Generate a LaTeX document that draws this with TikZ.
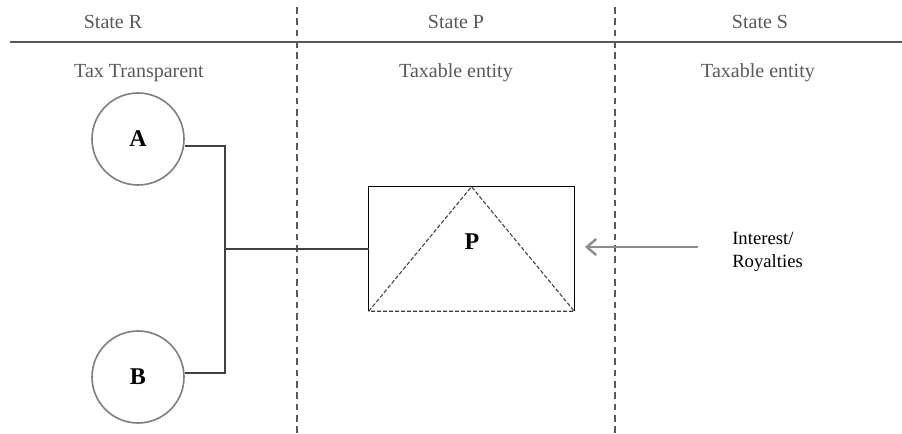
\documentclass[tikz,border=0pt]{standalone}
\usepackage{fontspec}
\setmainfont{Liberation Serif}
\usetikzlibrary{arrows.meta}
\definecolor{hdr}{HTML}{595959}
\definecolor{ln}{HTML}{404040}
\definecolor{circ}{HTML}{7F7F7F}
\definecolor{arr}{HTML}{8C8C8C}
\tikzset{
  hdrtext/.style={text=hdr, font=\fontsize{15}{18}\selectfont, inner sep=0pt},
  entity/.style={circle, draw=circ, line width=1.2pt, minimum size=92*0.75pt, inner sep=0pt, font=\fontsize{18}{21}\selectfont\bfseries},
  conn/.style={draw=ln, line width=0.9pt},
  divider/.style={draw=hdr, line width=0.9pt, dash pattern=on 5pt off 3.5pt},
  tri/.style={draw=ln, line width=0.8pt, dash pattern=on 3pt off 1.5pt},
}
\begin{document}
\begin{tikzpicture}[x=0.75pt,y=-0.75pt]
\useasboundingbox (0,0) rectangle (902,434);
\fill[white] (0,0) rectangle (902,434);
% header line and dividers
\coordinate (hl) at (10,42);
\coordinate (hr) at (902,42);
\draw[draw=hdr, line width=1pt] (hl) -- (hr);
\coordinate (d1t) at (297,7);
\coordinate (d1b) at (297,434);
\coordinate (d2t) at (615,7);
\coordinate (d2b) at (615,434);
\draw[divider] (d1t) -- (d1b);
\draw[divider] (d2t) -- (d2b);
% headers
\node[hdrtext] (sR) at (113,22) {State R};
\node[hdrtext] (sP) at (456,22) {State P};
\node[hdrtext] (sS) at (760,22) {State S};
\node[hdrtext] (tR) at (139,73) {Tax Transparent};
\node[hdrtext] (tP) at (456,73) {Taxable entity};
\node[hdrtext] (tS) at (758,73) {Taxable entity};
% entities
\node[entity] (A) at (138,139) {A};
\node[entity] (B) at (138,377) {B};
% box P
\node[minimum width=205*0.75pt, minimum height=124*0.75pt, inner sep=0pt] (Pbox) at (471.5,249) {};
\draw[draw=black, line width=1pt] (Pbox.south west) -- (Pbox.north west) -- (Pbox.north east) -- (Pbox.south east);
\draw[tri] (Pbox.south west) -- (Pbox.north) -- (Pbox.south east) -- cycle;
\node[font=\fontsize{18}{21}\selectfont\bfseries, inner sep=0pt] (P) at (472,242) {P};
% connectors
\coordinate (jA) at (225,146);
\coordinate (jB) at (225,373);
\coordinate (jM) at (225,249);
\draw[conn] (A.east |- jA) -- (jA) -- (jB) -- (B.east |- jB);
\draw[conn] (jM) -- (Pbox.west);
% interest label and arrow
\node[anchor=west, align=left, font=\fontsize{14}{17}\selectfont, inner sep=0pt] (IR) at (732,252) {Interest/\\Royalties};
\coordinate (as) at (698,247);
\coordinate (ae) at (585,247);
\draw[draw=arr, line width=1.6pt, -{Straight Barb[length=7pt, width=12pt, line width=1.8pt]}] (as) -- (ae);
\end{tikzpicture}
\end{document}
